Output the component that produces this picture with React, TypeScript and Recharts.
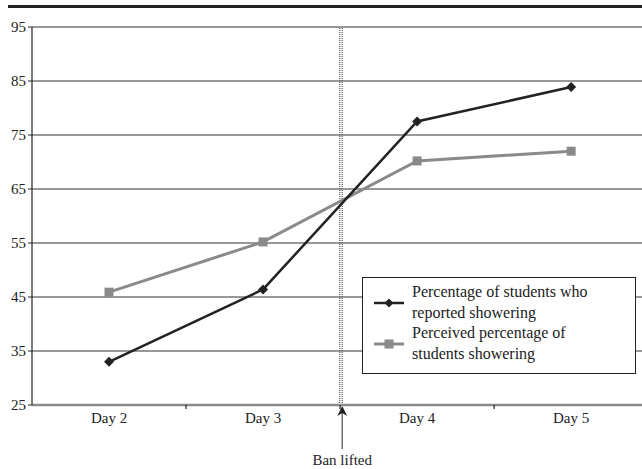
import React from 'react';
import {
  LineChart,
  Line,
  XAxis,
  YAxis,
  CartesianGrid,
  ReferenceLine,
  Legend,
} from 'recharts';

// values
const days = [2, 3, 4, 5];
const dayLabels = ['Day 2', 'Day 3', 'Day 4', 'Day 5'];
const reported = [33.0, 46.4, 77.5, 83.9];
const perceived = [45.9, 55.2, 70.2, 72.0];
const yTicks = [25, 35, 45, 55, 65, 75, 85, 95];
const seriesNames = [
  ['Percentage of students who', 'reported showering'],
  ['Perceived percentage of', 'students showering'],
];
const banLiftedAt = 3.506;
const banText = 'Ban lifted';

const data = days.map((d, i) => ({
  day: d,
  reported: reported[i],
  perceived: perceived[i],
}));

const FONT = "'Liberation Serif', 'Times New Roman', serif";
const DARK = '#222';
const GREY = '#8a8a8a';

const Diamond = (props: any) => {
  const { cx, cy } = props;
  if (cx == null || cy == null) return null;
  const r = 5;
  return (
    <path
      d={`M${cx},${cy - r}L${cx + r},${cy}L${cx},${cy + r}L${cx - r},${cy}Z`}
      fill={DARK}
    />
  );
};

const Square = (props: any) => {
  const { cx, cy } = props;
  if (cx == null || cy == null) return null;
  return <rect x={cx - 4.5} y={cy - 4.5} width={9} height={9} fill={GREY} />;
};

const DayTick = (props: any) => {
  const { x, y, payload } = props;
  const v = payload.value;
  if (Number.isInteger(v)) {
    const idx = days.indexOf(v);
    return (
      <text
        x={x}
        y={y + 18}
        textAnchor="middle"
        style={{ fontFamily: FONT, fontSize: 15 }}
        fill={DARK}
      >
        {dayLabels[idx]}
      </text>
    );
  }
  return <line x1={x} x2={x} y1={y} y2={y + 4} stroke={DARK} strokeWidth={1.2} />;
};

const ValueTick = (props: any) => {
  const { x, y, payload } = props;
  return (
    <text
      x={x}
      y={y + 5}
      textAnchor="end"
      style={{ fontFamily: FONT, fontSize: 15 }}
      fill={DARK}
    >
      {payload.value}
    </text>
  );
};

const BanLabel = (props: any) => {
  const vb = props.viewBox || {};
  const x = vb.x;
  const bottom = vb.y + vb.height;
  if (x == null || isNaN(bottom)) return null;
  return (
    <g>
      <line x1={x} x2={x} y1={bottom + 8} y2={bottom + 44} stroke="#555" strokeWidth={1.3} />
      <path
        d={`M${x},${bottom + 1}L${x + 5},${bottom + 11}L${x},${bottom + 8}L${x - 5},${bottom + 11}Z`}
        fill={DARK}
      />
      <text
        x={x}
        y={bottom + 60}
        textAnchor="middle"
        style={{ fontFamily: FONT, fontSize: 15 }}
        fill={DARK}
      >
        {banText}
      </text>
    </g>
  );
};

const LegendBox = () => {
  const icons = [
    <svg width={32} height={12} key="a">
      <line x1={1} x2={31} y1={6} y2={6} stroke={DARK} strokeWidth={2.5} />
      <path d="M16,1.5L20.5,6L16,10.5L11.5,6Z" fill={DARK} />
    </svg>,
    <svg width={32} height={12} key="b">
      <line x1={1} x2={31} y1={6} y2={6} stroke={GREY} strokeWidth={3} />
      <rect x={11.5} y={1.5} width={9} height={9} fill={GREY} />
    </svg>,
  ];
  return (
    <div
      style={{
        boxSizing: 'border-box',
        width: 274,
        height: 97,
        border: `1px solid ${DARK}`,
        background: '#fff',
        padding: '4px 0 0 0',
        fontFamily: FONT,
        fontSize: 16,
        lineHeight: '20.5px',
        color: DARK,
      }}
    >
      {seriesNames.map((lines, i) => (
        <div key={i} style={{ display: 'flex', alignItems: 'center' }}>
          <div style={{ width: 10 }} />
          {icons[i]}
          <div style={{ marginLeft: 7, textAlign: 'left' }}>
            {lines.map((l, j) => (
              <div key={j}>{l}</div>
            ))}
          </div>
        </div>
      ))}
    </div>
  );
};

export default function App() {
  return (
    <div style={{ position: 'absolute', left: 0, top: 0, width: 642, height: 469, background: '#fff' }}>
      <div
        style={{ position: 'absolute', left: 8, top: 5, width: 634, height: 3, background: DARK }}
      />
      <LineChart
        width={642}
        height={469}
        data={data}
        margin={{ top: 27, right: 0, left: 0, bottom: 34 }}
      >
        <CartesianGrid vertical={false} stroke="#333" strokeWidth={1} />
        <XAxis
          dataKey="day"
          type="number"
          domain={[1.5, 5.46]}
          ticks={[2, 2.5, 3, 3.5, 4, 4.5, 5]}
          allowDataOverflow
          height={30}
          tickLine={false}
          tickSize={0}
          tickMargin={0}
          tick={<DayTick />}
          axisLine={{ stroke: GREY, strokeWidth: 2.5 }}
          interval={0}
        />
        <YAxis
          domain={[25, 95]}
          ticks={yTicks}
          width={32}
          allowDataOverflow
          tickSize={4}
          tickMargin={2}
          tickLine={{ stroke: DARK }}
          axisLine={{ stroke: DARK, strokeWidth: 1.2 }}
          tick={<ValueTick />}
          interval={0}
        />
        <ReferenceLine
          x={banLiftedAt - 0.008}
          stroke="#555"
          strokeDasharray="1 1"
          strokeWidth={1.2}
        />
        <ReferenceLine
          x={banLiftedAt + 0.008}
          stroke="#555"
          strokeDasharray="1 1"
          strokeWidth={1.2}
          label={<BanLabel />}
        />
        <Line
          dataKey="perceived"
          name={seriesNames[1].join(' ')}
          stroke={GREY}
          strokeWidth={3}
          dot={<Square />}
          activeDot={false}
          isAnimationActive={false}
        />
        <Line
          dataKey="reported"
          name={seriesNames[0].join(' ')}
          stroke={DARK}
          strokeWidth={2.5}
          dot={<Diamond />}
          activeDot={false}
          isAnimationActive={false}
        />
        <Legend
          layout="horizontal"
          verticalAlign="middle"
          align="center"
          content={<LegendBox />}
          wrapperStyle={{ left: 362, top: 277, width: 274, height: 97 }}
        />
      </LineChart>
    </div>
  );
}
